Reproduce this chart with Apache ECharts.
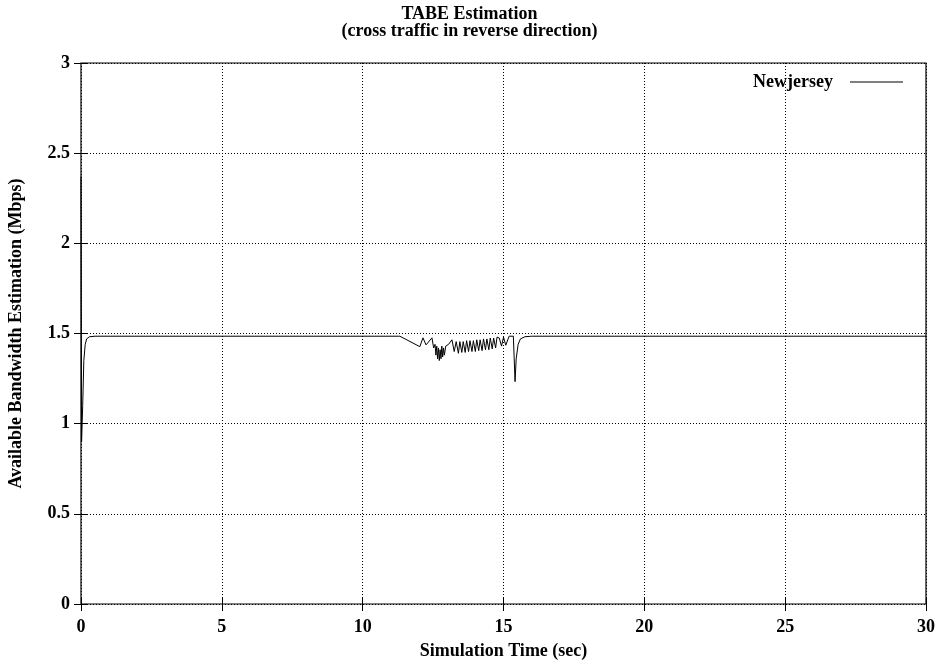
<!DOCTYPE html>
<html>
<head>
<meta charset="utf-8">
<script src="https://cdn.jsdelivr.net/npm/echarts@6/dist/echarts.min.js"></script>
<style>html,body{margin:0;padding:0;background:#fff}#c{width:939px;height:665px}</style>
</head>
<body>
<div id="c"></div>
<script>
var seriesName = 'Newjersey';
var times = [0, 0.02, 0.06, 0.1, 0.15, 0.2, 0.3, 0.5,
  11.32, 12.03, 12.14, 12.25, 12.46, 12.52, 12.57, 12.6, 12.63, 12.66, 12.69, 12.72, 12.75, 12.78, 12.81, 12.84, 12.87, 12.9, 12.95, 13.05, 13.17,
  13.25, 13.32, 13.4, 13.45, 13.52, 13.57, 13.64, 13.69, 13.76, 13.81, 13.88, 13.93, 14.0, 14.05, 14.12, 14.17, 14.24, 14.29, 14.36, 14.41, 14.48, 14.53, 14.6, 14.65, 14.72, 14.77, 14.85, 14.93, 15.0, 15.08, 15.2,
  15.35, 15.41, 15.45, 15.52, 15.6, 15.76, 16.0, 30];
var values = [2.37, 0.9, 1.1, 1.35, 1.44, 1.47, 1.482, 1.485,
  1.485, 1.427, 1.476, 1.437, 1.476, 1.42, 1.44, 1.38, 1.43, 1.36, 1.42, 1.35, 1.41, 1.36, 1.43, 1.37, 1.42, 1.38, 1.43, 1.44, 1.465,
  1.40, 1.455, 1.39, 1.455, 1.395, 1.455, 1.395, 1.46, 1.40, 1.46, 1.40, 1.46, 1.40, 1.465, 1.405, 1.465, 1.405, 1.47, 1.41, 1.47, 1.41, 1.475, 1.415, 1.475, 1.42, 1.48, 1.475, 1.43, 1.48, 1.435, 1.485,
  1.485, 1.233, 1.36, 1.44, 1.47, 1.482, 1.485, 1.485];
var xTicks = [0, 5, 10, 15, 20, 25, 30];
var yTicks = [0, 0.5, 1, 1.5, 2, 2.5, 3];

var data = times.map(function (t, i) { return [t, values[i]]; });
var font = 'Liberation Serif';
var fs = 18;
var tickStyle = { inside: true, length: 7, lineStyle: { color: '#000', width: 1 } };

var chart = echarts.init(document.getElementById('c'), null, { renderer: 'canvas' });
chart.setOption({
  animation: false,
  backgroundColor: '#fff',
  title: {
    text: 'TABE Estimation\n(cross traffic in reverse direction)',
    left: 'center', top: 6, padding: 0,
    textStyle: { fontFamily: font, fontWeight: 'bold', fontSize: fs, color: '#000', lineHeight: 17 }
  },
  legend: {
    data: [seriesName],
    right: 36, top: 73, padding: 0,
    align: 'right',
    icon: 'rect', itemWidth: 53, itemHeight: 1.2, itemGap: 0,
    textStyle: { fontFamily: font, fontWeight: 'bold', fontSize: fs, color: '#000', padding: [0, 12, 0, 0] }
  },
  grid: { left: 81, top: 63, right: 13, bottom: 61, show: true, borderColor: '#000', borderWidth: 1.2,
    containLabel: false, outerBoundsMode: 'none' },
  xAxis: [{
    type: 'value', min: 0, max: 30, interval: 5,
    name: 'Simulation Time (sec)', nameLocation: 'middle', nameGap: 38,
    nameTextStyle: { fontFamily: font, fontWeight: 'bold', fontSize: fs, color: '#000' },
    axisLine: { show: false },
    axisTick: tickStyle,
    axisLabel: { fontFamily: font, fontWeight: 'bold', fontSize: fs, color: '#000', margin: 14,
      customValues: xTicks },
    splitLine: { show: true, lineStyle: { color: '#000', type: [1, 2], width: 1 } }
  }, {
    type: 'value', min: 0, max: 30, interval: 5, position: 'top',
    axisLine: { show: false }, axisTick: tickStyle, axisLabel: { show: false }, splitLine: { show: false }
  }],
  yAxis: [{
    type: 'value', min: 0, max: 3, interval: 0.5,
    name: 'Available Bandwidth Estimation (Mbps)', nameLocation: 'middle', nameGap: 56,
    nameTextStyle: { fontFamily: font, fontWeight: 'bold', fontSize: fs, color: '#000' },
    axisLine: { show: false },
    axisTick: tickStyle,
    axisLabel: { fontFamily: font, fontWeight: 'bold', fontSize: fs, color: '#000', margin: 11,
      customValues: yTicks },
    splitLine: { show: true, lineStyle: { color: '#000', type: [1, 2], width: 1 } }
  }, {
    type: 'value', min: 0, max: 3, interval: 0.5, position: 'right',
    axisLine: { show: false }, axisTick: tickStyle, axisLabel: { show: false }, splitLine: { show: false }
  }],
  series: [{
    name: seriesName, type: 'line', data: data, showSymbol: false, symbol: 'none',
    lineStyle: { color: '#000', width: 1 }, itemStyle: { color: '#000' }
  }]
});
</script>
</body>
</html>
